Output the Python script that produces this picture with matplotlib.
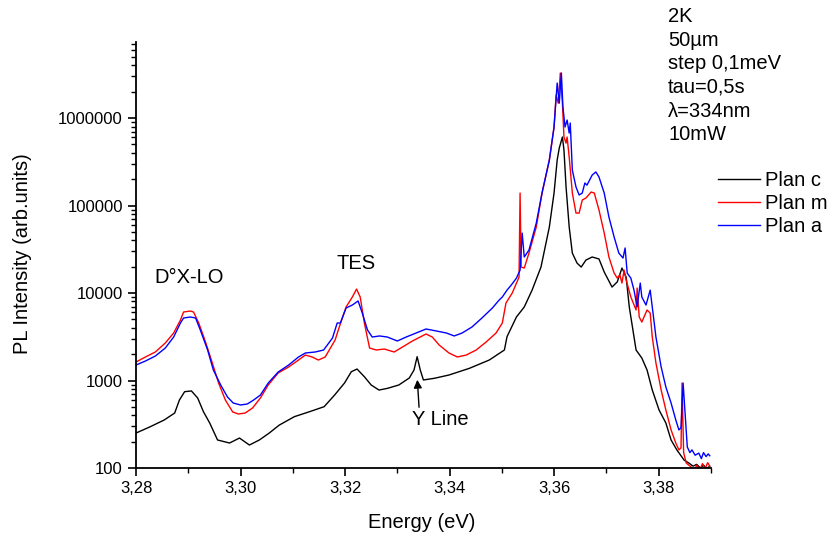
import matplotlib
matplotlib.use("Agg")
import matplotlib.pyplot as plt
from matplotlib.ticker import FixedLocator, FuncFormatter, LogLocator, NullFormatter, MultipleLocator

plt.rcParams['font.family'] = ['Liberation Sans', 'DejaVu Sans']

# Plan c (noir)
energie_c = [3.2800, 3.2826, 3.2854, 3.2874, 3.2883, 3.2893, 3.2906, 3.2918, 3.2929, 3.2941,
             3.2956, 3.2979, 3.2998, 3.3017, 3.3036, 3.3055, 3.3074, 3.3103, 3.3132, 3.3160,
             3.3180, 3.3199, 3.3212, 3.3223, 3.3237, 3.3250, 3.3265, 3.3281, 3.3303, 3.3323,
             3.3332, 3.3338, 3.3344, 3.3350, 3.3371, 3.3399, 3.3438, 3.3476, 3.3505, 3.3510,
             3.3528, 3.3543, 3.3558, 3.3575, 3.3591, 3.3600, 3.3606, 3.3610, 3.3616, 3.3619,
             3.3623, 3.3629, 3.3635, 3.3644, 3.3652, 3.3661, 3.3673, 3.3686, 3.3696, 3.3711,
             3.3721, 3.3730, 3.3738, 3.3744, 3.3757, 3.3768, 3.3778, 3.3788, 3.3801, 3.3814,
             3.3824, 3.3835, 3.3849, 3.3858, 3.3866, 3.3873, 3.3880, 3.3886, 3.3892, 3.3898]
intens_c = [251, 294, 354, 425, 598, 745, 760, 631, 440, 327,
            209, 193, 220, 183, 209, 251, 309, 386, 440, 502,
            682, 936, 1260, 1353, 1104, 889, 778, 813, 889, 1069,
            1318, 1871, 1318, 1014, 1060, 1156, 1378, 1714, 2232, 3170,
            5320, 6920, 10800, 19800, 56800, 139000, 331000, 454000, 607000, 430000,
            163000, 56800, 28600, 22000, 19800, 23800, 25800, 24500, 17400, 11700,
            13400, 19300, 15200, 6920, 2230, 1807, 1318, 778, 460, 327,
            209, 161, 123, 114, 105, 110, 100, 108, 98, 105]

# Plan m (rouge)
energie_m = [3.2800, 3.2818, 3.2837, 3.2856, 3.2872, 3.2885, 3.2891, 3.2904, 3.2910, 3.2920,
             3.2933, 3.2946, 3.2958, 3.2971, 3.2985, 3.2996, 3.3009, 3.3023, 3.3038, 3.3053,
             3.3072, 3.3092, 3.3111, 3.3124, 3.3137, 3.3149, 3.3162, 3.3181, 3.3189, 3.3202,
             3.3214, 3.3222, 3.3229, 3.3237, 3.3247, 3.3260, 3.3275, 3.3294, 3.3310, 3.3329,
             3.3355, 3.3367, 3.3380, 3.3399, 3.3415, 3.3432, 3.3451, 3.3470, 3.3489, 3.3501,
             3.3508, 3.3520, 3.3533, 3.3535, 3.3537, 3.3543, 3.3552, 3.3566, 3.3577, 3.3591,
             3.3600, 3.3604, 3.3608, 3.3612, 3.3616, 3.3619, 3.3623, 3.3625, 3.3629, 3.3635,
             3.3642, 3.3648, 3.3654, 3.3661, 3.3671, 3.3677, 3.3686, 3.3696, 3.3705, 3.3715,
             3.3721, 3.3726, 3.3730, 3.3734, 3.3738, 3.3747, 3.3757, 3.3759, 3.3763, 3.3768,
             3.3778, 3.3784, 3.3788, 3.3795, 3.3805, 3.3814, 3.3824, 3.3833, 3.3839, 3.3843,
             3.3845, 3.3848, 3.3853, 3.3862, 3.3868, 3.3873, 3.3879, 3.3884, 3.3889, 3.3894, 3.3898]
intens_m = [1627, 1857, 2118, 2683, 3490, 4910, 6070, 6220, 6070, 4540,
            2754, 1585, 936, 598, 437, 414, 425, 485, 631, 889,
            1219, 1427, 1714, 1955, 1857, 1714, 1857, 2904, 4090, 6920,
            9000, 11100, 9000, 4540, 2350, 2232, 2290, 2118, 2415, 2830,
            3400, 3140, 2547, 2062, 1857, 1955, 2232, 2754, 3490, 4540,
            7690, 10000, 15200, 139000, 19800, 19300, 28600, 56800, 139000, 331000,
            789000, 1830000, 1480000, 3270000, 1480000, 607000, 517000, 607000, 358000, 139000,
            82000, 82000, 115600, 122000, 142700, 139000, 88900, 48500, 25800, 16900,
            14800, 16100, 13000, 18300, 14100, 9000, 6400, 11400, 5320, 4660,
            6400, 5900, 3140, 1585, 778, 460, 272, 193, 161, 170,
            936, 150, 114, 103, 92, 108, 95, 112, 98, 115, 105]

# Plan a (bleu)
energie_a = [3.2800, 3.2818, 3.2837, 3.2856, 3.2872, 3.2885, 3.2891, 3.2904, 3.2914, 3.2923,
             3.2937, 3.2948, 3.2962, 3.2975, 3.2986, 3.3000, 3.3013, 3.3025, 3.3038, 3.3053,
             3.3072, 3.3092, 3.3111, 3.3124, 3.3143, 3.3159, 3.3176, 3.3185, 3.3191, 3.3202,
             3.3214, 3.3225, 3.3233, 3.3243, 3.3252, 3.3266, 3.3281, 3.3300, 3.3317, 3.3336,
             3.3355, 3.3375, 3.3394, 3.3409, 3.3424, 3.3443, 3.3462, 3.3482, 3.3495, 3.3501,
             3.3510, 3.3518, 3.3528, 3.3535, 3.3539, 3.3543, 3.3552, 3.3566, 3.3577, 3.3591,
             3.3600, 3.3606, 3.3610, 3.3614, 3.3617, 3.3621, 3.3625, 3.3629, 3.3631, 3.3635,
             3.3642, 3.3648, 3.3654, 3.3659, 3.3663, 3.3673, 3.3680, 3.3686, 3.3696, 3.3705,
             3.3715, 3.3724, 3.3732, 3.3736, 3.3740, 3.3747, 3.3753, 3.3759, 3.3765, 3.3768,
             3.3776, 3.3784, 3.3788, 3.3795, 3.3805, 3.3814, 3.3824, 3.3833, 3.3839, 3.3843,
             3.3847, 3.3855, 3.3860, 3.3864, 3.3870, 3.3877, 3.3882, 3.3886, 3.3891, 3.3895, 3.3898]
intens_a = [1503, 1670, 1905, 2350, 3140, 4540, 5180, 5320, 5180, 3780,
            2232, 1318, 889, 648, 553, 525, 539, 598, 682, 936,
            1250, 1503, 1857, 2062, 2118, 2232, 3060, 4540, 4540, 6740,
            7290, 8110, 5900, 3780, 3140, 3230, 3140, 2830, 3140, 3490,
            3880, 3680, 3490, 3230, 3490, 4090, 5180, 6740, 8320, 9000,
            10800, 12300, 14800, 18300, 48500, 25800, 31000, 63100, 139000, 331000,
            789000, 2510000, 1480000, 3270000, 1340000, 789000, 949000, 674000, 877000, 254000,
            163000, 132000, 139000, 181000, 171000, 223000, 242000, 212000, 139000, 74000,
            43700, 28600, 25100, 32700, 16900, 14800, 10800, 6920, 13000, 9000,
            7290, 10800, 6920, 3140, 1427, 843, 553, 354, 272, 290,
            936, 174, 150, 161, 140, 148, 128, 150, 135, 145, 138]

yticks = [100, 1000, 10000, 100000, 1000000]

fig = plt.figure(figsize=(8.33, 5.37), dpi=100)
ax = fig.add_axes([0.1633, 0.1285, 0.690, 0.7933])

ax.plot(energie_c, intens_c, color="black", lw=1, label="Plan c")
ax.plot(energie_m, intens_m, color="red", lw=1, label="Plan m")
ax.plot(energie_a, intens_a, color="blue", lw=1, label="Plan a")

ax.set_yscale("log")
ax.set_xlim(3.28, 3.39)
ax.set_ylim(100, 7.4e6)

ax.spines["top"].set_visible(False)
ax.spines["right"].set_visible(False)
ax.spines["left"].set_linewidth(1.3)
ax.spines["bottom"].set_linewidth(1.3)

ax.xaxis.set_major_locator(FixedLocator([3.28, 3.30, 3.32, 3.34, 3.36, 3.38]))
ax.xaxis.set_minor_locator(MultipleLocator(0.01))
ax.xaxis.set_major_formatter(FuncFormatter(lambda v, p: f"{v:.2f}".replace(".", ",")))
ax.yaxis.set_major_locator(FixedLocator(yticks))
ax.yaxis.set_major_formatter(FuncFormatter(lambda v, p: f"{int(round(v))}"))
ax.yaxis.set_minor_locator(LogLocator(base=10, subs=range(2, 10), numticks=20))
ax.yaxis.set_minor_formatter(NullFormatter())
ax.tick_params(which="major", direction="out", length=6, width=1.2, labelsize=12)
ax.tick_params(which="minor", direction="out", length=3.5, width=1.0)

fig.text(23 / 833, 1 - 254 / 537, "PL Intensity (arb.units)", rotation=90,
         ha="center", va="center", fontsize=14.5)
fig.text(422 / 833, 1 - 522 / 537, "Energy (eV)", ha="center", va="center", fontsize=14.5)

ax.text(3.2902, 15200, "D°X-LO", ha="center", va="center", fontsize=14.5)
ax.text(3.3222, 22000, "TES", ha="center", va="center", fontsize=14.5)
ax.text(3.3382, 354, "Y Line", ha="center", va="center", fontsize=14.5)
ax.annotate("", xy=(3.3338, 1097), xytext=(3.3342, 460),
            arrowprops=dict(arrowstyle="-|>", color="black", lw=1, mutation_scale=12))

fig.text(668 / 833, 1 - 7 / 537,
         "2K\n50µm\nstep 0,1meV\ntau=0,5s\nλ=334nm\n10mW",
         ha="left", va="top", fontsize=14.5, linespacing=1.31)

fig.legend(loc="upper left", bbox_to_anchor=(718 / 833, 1 - 171 / 537), frameon=False,
           fontsize=14.5, handlelength=2.1, handletextpad=0.25, labelspacing=0.2,
           borderpad=0, borderaxespad=0)

fig.savefig("out.png", dpi=100)
